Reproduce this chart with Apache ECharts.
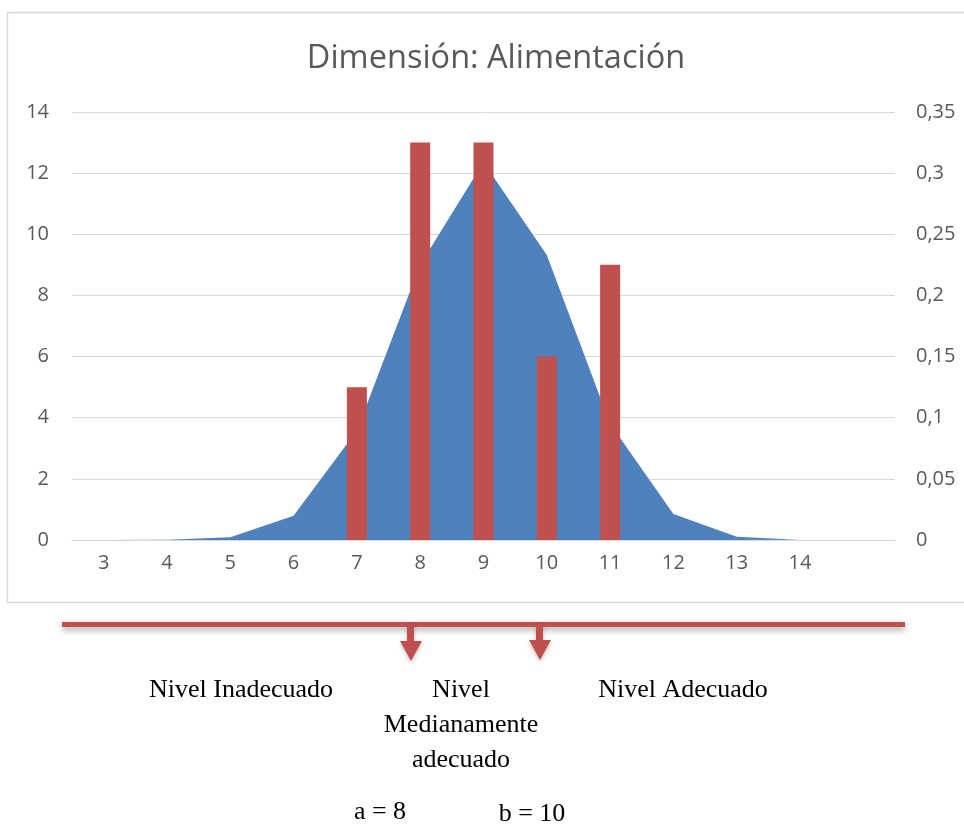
<!DOCTYPE html>
<html>
<head>
<meta charset="utf-8">
<script src="https://cdn.jsdelivr.net/npm/echarts@6/dist/echarts.min.js"></script>
<style>
  html, body { margin: 0; padding: 0; background: #fff; }
  #chart { width: 964px; height: 825px; }
</style>
</head>
<body>
<div id="chart"></div>
<script>
// categorias del eje x (la ultima queda vacia)
const categorias = ['3', '4', '5', '6', '7', '8', '9', '10', '11', '12', '13', '14', ''];
// frecuencias observadas (eje izquierdo)
const frecuencias = [null, null, null, null, 5, 13, 13, 6, 9, null, null, null, null];
// curva normal (eje derecho)
const curvaNormal = [0.00001, 0.0003, 0.0022, 0.0199, 0.0895, 0.225, 0.309, 0.233, 0.095, 0.0213, 0.0027, 0.0002, null];

const gris = '#595959';
const serif = '"Liberation Serif", "Times New Roman", serif';

let chart = echarts.init(document.getElementById('chart'));

let option = {
  animation: false,
  title: {
    text: 'Dimensión: Alimentación',
    left: 491,
    top: 37,
    textAlign: 'center',
    textStyle: {
      fontFamily: 'Open Sans',
      fontSize: 32.5,
      fontWeight: 'normal',
      color: gris
    }
  },
  grid: {
    left: 72,
    right: 69,
    top: 112,
    bottom: 285
  },
  xAxis: {
    type: 'category',
    data: categorias,
    axisLine: { lineStyle: { color: '#d9d9d9' } },
    axisTick: { show: false },
    axisLabel: {
      color: gris,
      fontFamily: 'Open Sans',
      fontSize: 20,
      margin: 13
    }
  },
  yAxis: [
    {
      type: 'value',
      min: 0,
      max: 14,
      interval: 2,
      axisLine: { show: false },
      axisTick: { show: false },
      splitLine: { lineStyle: { color: '#d9d9d9' } },
      axisLabel: {
        color: gris,
        fontFamily: 'Open Sans',
        fontSize: 20,
        margin: 23
      }
    },
    {
      type: 'value',
      min: 0,
      max: 0.35,
      interval: 0.05,
      axisLine: { show: false },
      axisTick: { show: false },
      splitLine: { show: false },
      axisLabel: {
        color: gris,
        fontFamily: 'Open Sans',
        fontSize: 20,
        margin: 21,
        formatter: function (v) {
          return String(+v.toFixed(2)).replace('.', ',');
        }
      }
    }
  ],
  series: [
    {
      type: 'line',
      yAxisIndex: 1,
      data: curvaNormal,
      symbol: 'none',
      lineStyle: { width: 0 },
      areaStyle: { color: '#4f81bd', opacity: 1 },
      z: 2
    },
    {
      type: 'bar',
      yAxisIndex: 0,
      data: frecuencias,
      barWidth: 20,
      itemStyle: { color: '#c0504d' },
      z: 3
    }
  ],
  graphic: [
    // marco del grafico
    {
      type: 'rect',
      shape: { x: 7.5, y: 12.5, width: 980, height: 590 },
      style: { fill: null, stroke: '#d9d9d9', lineWidth: 1.5 },
      silent: true
    },
    // linea roja
    {
      type: 'rect',
      shape: { x: 62, y: 622, width: 843, height: 5 },
      style: {
        fill: '#c0504d',
        shadowColor: 'rgba(0,0,0,0.35)',
        shadowBlur: 6,
        shadowOffsetY: 3
      }
    },
    // flechas
    {
      type: 'polygon',
      shape: { points: [[407, 624], [414, 624], [414, 641], [422, 641], [411, 661], [400, 641], [407, 641]] },
      style: { fill: '#c0504d', shadowColor: 'rgba(0,0,0,0.25)', shadowBlur: 4, shadowOffsetY: 2 }
    },
    {
      type: 'polygon',
      shape: { points: [[536, 624], [543, 624], [543, 640], [551, 640], [540, 660], [529, 640], [536, 640]] },
      style: { fill: '#c0504d', shadowColor: 'rgba(0,0,0,0.25)', shadowBlur: 4, shadowOffsetY: 2 }
    },
    // textos
    {
      type: 'text',
      x: 241, y: 690,
      style: { text: 'Nivel Inadecuado', font: '26px ' + serif, fill: '#000', textAlign: 'center', textVerticalAlign: 'middle' }
    },
    {
      type: 'text',
      x: 461, y: 690,
      style: { text: 'Nivel', font: '26px ' + serif, fill: '#000', textAlign: 'center', textVerticalAlign: 'middle' }
    },
    {
      type: 'text',
      x: 461, y: 725,
      style: { text: 'Medianamente', font: '26px ' + serif, fill: '#000', textAlign: 'center', textVerticalAlign: 'middle' }
    },
    {
      type: 'text',
      x: 461, y: 760,
      style: { text: 'adecuado', font: '26px ' + serif, fill: '#000', textAlign: 'center', textVerticalAlign: 'middle' }
    },
    {
      type: 'text',
      x: 683, y: 690,
      style: { text: 'Nivel Adecuado', font: '26px ' + serif, fill: '#000', textAlign: 'center', textVerticalAlign: 'middle' }
    },
    {
      type: 'text',
      x: 380, y: 812,
      style: { text: 'a = 8', font: '26px ' + serif, fill: '#000', textAlign: 'center', textVerticalAlign: 'middle' }
    },
    {
      type: 'text',
      x: 532, y: 814,
      style: { text: 'b = 10', font: '26px ' + serif, fill: '#000', textAlign: 'center', textVerticalAlign: 'middle' }
    }
  ]
};

chart.setOption(option);
</script>
</body>
</html>
